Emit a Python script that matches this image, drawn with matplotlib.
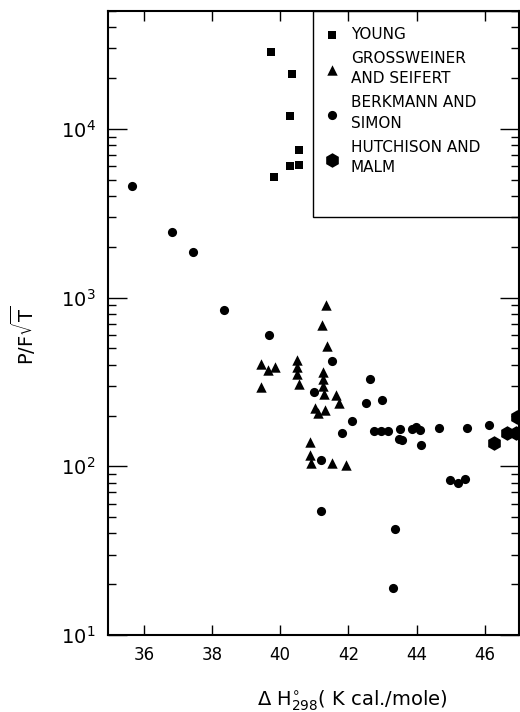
import matplotlib
matplotlib.use("Agg")
import matplotlib.pyplot as plt
from matplotlib.patches import Rectangle

plt.rcParams['font.family'] = ['DejaVu Sans']
plt.rcParams['mathtext.fontset'] = 'dejavusans'

# Young (squares)
young_x = [39.74, 40.33, 40.28, 40.55, 40.30, 40.55, 39.81]
young_y = [28600, 21300, 12000, 7500, 6050, 6130, 5220]

# Grossweiner and Seifert (triangles)
gs_x = [41.34, 41.21, 41.36, 39.43, 39.65, 39.84, 39.43, 40.50, 40.50, 40.50, 40.55,
        41.26, 41.26, 41.26, 41.28, 41.63, 41.71, 41.01, 41.31, 41.11,
        40.87, 40.88, 40.90, 41.53, 41.92]
gs_y = [900, 684, 520, 405, 374, 387, 294, 424, 386, 353, 308,
        361, 330, 301, 268, 265, 237, 223, 216, 207,
        140, 116, 104, 105, 102]

# Berkmann and Simon (circles)
bs_x = [35.64, 36.84, 37.45, 38.35, 39.67, 41.53, 40.99, 42.64, 42.52, 42.99, 42.10,
        41.80, 42.75, 42.95, 43.15, 43.50, 43.48, 43.58, 43.85, 43.98, 44.09, 44.12,
        44.65, 45.49, 46.12, 41.19, 44.97, 45.22, 45.43, 41.19, 43.36, 43.31]
bs_y = [4560, 2440, 1853, 840, 600, 420, 275, 328, 237, 246, 186,
        157, 161, 161, 161, 166, 145, 143, 166, 172, 164, 134,
        169, 169, 176, 109, 82.6, 80, 83.7, 54, 42.6, 19]

# Hutchison and Malm (hexagons)
hm_x = [46.26, 46.64, 46.90, 46.95]
hm_y = [138, 158, 158, 195]

fig = plt.figure(figsize=(5.2, 7.12), dpi=100)
ax = fig.add_axes([108 / 520, 77 / 712, 411 / 520, 624 / 712])

ax.scatter(young_x, young_y, marker='s', s=5.8**2, color='black', linewidths=0,
           label='YOUNG')
ax.scatter(gs_x, gs_y, marker='^', s=7.5**2, color='black', linewidths=0,
           label='GROSSWEINER\nAND SEIFERT')
ax.scatter(bs_x, bs_y, marker='o', s=6.6**2, color='black', linewidths=0,
           label='BERKMANN AND\nSIMON')
ax.scatter(hm_x, hm_y, marker='h', s=10.5**2, color='black', linewidths=0,
           label='HUTCHISON AND\nMALM')

ax.set_yscale('log')
ax.set_xlim(34.95, 47.0)
ax.set_ylim(10, 50000)
ax.set_xticks([36, 38, 40, 42, 44, 46])
ax.set_xticklabels(['36', '38', '40', '42', '44', '46'], fontsize=12)
ax.set_yticks([10, 100, 1000, 10000])
ax.set_yticklabels([r'$10^1$', r'$10^2$', r'$10^3$', r'$10^4$'], fontsize=14)

for s in ax.spines.values():
    s.set_linewidth(1.5)

ax.tick_params(axis='x', which='major', direction='in', length=7, width=1,
               top=True, bottom=True, pad=8)
ax.tick_params(axis='x', which='minor', bottom=False, top=False)
ax.tick_params(axis='y', which='major', direction='in', length=14, width=1,
               left=True, right=True, pad=9)
ax.tick_params(axis='y', which='minor', direction='in', length=6, width=1,
               left=True, right=True)

ax.set_ylabel(r'$\mathrm{P/F}\sqrt{\mathrm{T}}$', fontsize=14)
ax.yaxis.set_label_coords(-0.17, 0.48)
ax.set_xlabel(r'$\Delta\ \mathrm{H}^{\circ}_{298}$( K cal./mole)', fontsize=14)
ax.xaxis.set_label_coords(0.594, -0.085)
ax.xaxis.label.set_va('top')

# legend box
ax.add_patch(Rectangle((0.499, 0.670), 0.501, 0.330, transform=ax.transAxes,
                       fill=False, edgecolor='black', linewidth=1.0, zorder=3))
leg = ax.legend(loc='upper left', bbox_to_anchor=(0.5265, 0.975), frameon=False,
                fontsize=11, handlelength=1.0, handletextpad=0.74, borderpad=0,
                borderaxespad=0, labelspacing=0.6, scatterpoints=1)
for t in leg.get_texts():
    t.set_linespacing(1.45)

fig.savefig('out.png', dpi=100)
